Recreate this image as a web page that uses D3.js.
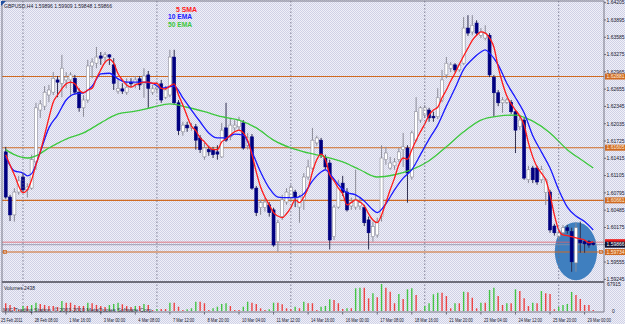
<!DOCTYPE html>
<html>
<head>
<meta charset="utf-8">
<script src="https://cdn.jsdelivr.net/npm/d3@7/dist/d3.min.js"></script>
<style>
  body { margin: 0; background: #e2e2ee; }
  svg { display: block; }
  text { font-family: "Liberation Sans", Arial, sans-serif; }
</style>
</head>
<body>
<div id="chart"></div>
<script>
// GBPUSD H4
// bar 0 = Mon 28 Feb 2011 00:00, one bar per 4h, plus a short Sunday 20:00 bar each week
const firstBar = -4

const open = [1.6153,1.6072,1.6040,1.6081,1.6108,1.6085,1.6088,1.6135,1.6228,1.6235,
  1.6255,1.6260,1.6282,1.6276,1.6282,1.6282,1.6285,1.6260,1.6232,1.6246,
  1.6307,1.6312,1.6325,1.6323,1.6327,1.6309,1.6262,1.6266,1.6260,1.6278,
  1.6275,1.6284,1.6275,1.6291,1.6260,1.6266,1.6275,1.6251,1.6255,1.6323,
  1.6241,1.6189,1.6201,1.6196,1.6198,1.6178,1.6144,1.6157,1.6157,1.6153,
  1.6144,1.6196,1.6180,1.6196,1.6198,1.6205,1.6165,1.6180,1.6088,1.6053,
  1.6053,1.6058,1.6049,1.5992,1.6037,1.6063,1.6072,1.6081,1.6054,1.6067,
  1.6108,1.6124,1.6169,1.6174,1.6142,1.6133,1.6001,1.6054,1.6097,1.6081,
  1.6056,1.6054,1.6056,1.6053,1.6031,1.6001,1.6004,1.6037,1.6139,1.6124,
  1.6128,1.6139,1.6157,1.6160,1.6108,1.6174,1.6210,1.6219,1.6228,1.6217,
  1.6216,1.6246,1.6291,1.6303,1.6309,1.6300,1.6312,1.6375,1.6368,1.6384,
  1.6362,1.6357,1.6362,1.6287,1.6259,1.6241,1.6242,1.6242,1.6225,1.6198,
  1.6210,1.6103,1.6124,1.6124,1.6103,1.6080,1.6081,1.6020,1.6001,1.6008,
  1.6017,1.6010,1.5954,1.5995,1.5992,1.5992,1.59896]
const high = [1.6162,1.6076,1.6088,1.6110,1.6115,1.6097,1.6148,1.6241,1.6246,1.6271,
  1.6273,1.6296,1.6289,1.6327,1.6296,1.6296,1.6291,1.6267,1.6255,1.6318,
  1.6321,1.6341,1.6332,1.6332,1.6328,1.6321,1.6285,1.6276,1.6285,1.6285,
  1.6289,1.6289,1.6303,1.6298,1.6273,1.6275,1.6282,1.6271,1.6336,1.6336,
  1.6246,1.6207,1.6207,1.6205,1.6203,1.6183,1.6169,1.6164,1.6162,1.6165,
  1.6205,1.6241,1.6214,1.6210,1.6216,1.6210,1.6187,1.6185,1.6092,1.6067,
  1.6071,1.6063,1.6053,1.6031,1.6076,1.6088,1.6094,1.6085,1.6076,1.6115,
  1.6139,1.6196,1.6182,1.6178,1.6148,1.6139,1.6058,1.6103,1.6110,1.6088,
  1.6071,1.6121,1.6072,1.6058,1.6037,1.6028,1.6035,1.6165,1.6162,1.6144,
  1.6142,1.6160,1.6187,1.6165,1.6191,1.6251,1.6235,1.6237,1.6232,1.6225,
  1.6267,1.6300,1.6323,1.6314,1.6312,1.6312,1.6395,1.6398,1.6398,1.6389,
  1.6375,1.6380,1.6366,1.6291,1.6264,1.6251,1.6250,1.6246,1.6228,1.6219,
  1.6214,1.6128,1.6128,1.6128,1.6128,1.6106,1.6085,1.6024,1.6013,1.6022,
  1.6022,1.6017,1.6026,1.6028,1.5995,1.5995,1.59909]
const low = [1.6069,1.6029,1.6028,1.6076,1.6080,1.6071,1.6085,1.6121,1.6214,1.6228,
  1.6242,1.6255,1.6251,1.6251,1.6267,1.6251,1.6255,1.6225,1.6216,1.6241,
  1.6285,1.6303,1.6309,1.6312,1.6309,1.6264,1.6257,1.6257,1.6255,1.6269,
  1.6267,1.6264,1.6250,1.6232,1.6255,1.6260,1.6241,1.6248,1.6251,1.6237,
  1.6183,1.6182,1.6189,1.6191,1.6157,1.6151,1.6139,1.6146,1.6142,1.6139,
  1.6142,1.6171,1.6174,1.6189,1.6192,1.6157,1.6157,1.6085,1.6038,1.6040,
  1.6046,1.6037,1.5983,1.5974,1.6031,1.6058,1.6067,1.6054,1.6026,1.6049,
  1.6103,1.6121,1.6164,1.6142,1.6121,1.5978,1.5995,1.6051,1.6074,1.6046,
  1.6049,1.6049,1.6049,1.6020,1.5978,1.5992,1.5999,1.6028,1.6130,1.6121,
  1.6121,1.6135,1.6126,1.6062,1.6103,1.6171,1.6205,1.6214,1.6207,1.6207,
  1.6212,1.6242,1.6285,1.6296,1.6296,1.6296,1.6309,1.6361,1.6362,1.6361,
  1.6357,1.6353,1.6287,1.6216,1.6235,1.6223,1.6239,1.6221,1.6151,1.6192,
  1.6103,1.6097,1.6097,1.6094,1.6097,1.6058,1.6008,1.6003,1.5995,1.6003,
  1.6006,1.5938,1.5938,1.5972,1.5972,1.5981,1.59848]
const close = [1.6072,1.6040,1.6081,1.6101,1.6085,1.6090,1.6139,1.6232,1.6239,1.6260,
  1.6264,1.6285,1.6278,1.6303,1.6287,1.6291,1.6260,1.6232,1.6246,1.6307,
  1.6314,1.6323,1.6321,1.6327,1.6323,1.6276,1.6267,1.6262,1.6269,1.6275,
  1.6282,1.6273,1.6289,1.6267,1.6266,1.6269,1.6246,1.6264,1.6323,1.6241,
  1.6191,1.6201,1.6196,1.6199,1.6174,1.6157,1.6160,1.6153,1.6148,1.6149,
  1.6192,1.6174,1.6201,1.6201,1.6210,1.6160,1.6178,1.6088,1.6044,1.6062,
  1.6063,1.6044,1.5986,1.6026,1.6067,1.6081,1.6090,1.6071,1.6072,1.6108,
  1.6126,1.6174,1.6178,1.6148,1.6126,1.5995,1.6054,1.6097,1.6080,1.6049,
  1.6062,1.6067,1.6062,1.6026,1.6008,1.6019,1.6028,1.6142,1.6151,1.6133,
  1.6135,1.6153,1.6162,1.6115,1.6187,1.6225,1.6232,1.6232,1.6214,1.6214,
  1.6250,1.6282,1.6312,1.6309,1.6300,1.6309,1.6375,1.6366,1.6380,1.6366,
  1.6368,1.6366,1.6291,1.6259,1.6241,1.6246,1.6246,1.6225,1.6192,1.6210,
  1.6106,1.6121,1.6103,1.6099,1.6121,1.6103,1.6013,1.6008,1.6008,1.6017,
  1.6012,1.5956,1.6017,1.5990,1.5988,1.5986,1.59866]
const volume = [19400,15100,10100,2500,12600,12600,15100,20900,17600,15100,
  12600,12600,10100,25200,20900,20900,15100,12600,12600,20900,
  19400,15100,12600,10100,15100,17600,20900,16900,12600,10100,
  12600,12600,17600,15100,2500,5000,5000,5000,20900,20900,
  10800,2500,4300,6800,23400,23400,19400,2500,6800,10800,
  17600,19400,12600,2500,2500,10800,23400,20900,17600,6800,
  2500,4300,20900,20900,16900,6800,4300,10800,6800,23400,
  19400,19400,2500,10800,12600,29400,27700,19400,5000,6800,
  6800,57100,58600,58600,31900,44500,34500,67915,58600,48500,
  19400,42800,30200,54600,57100,40200,1300,12600,19400,42000,
  46000,46000,37700,6800,19400,19400,48500,47000,33400,6800,
  20900,20900,52800,58600,37700,15100,19400,19400,54600,50300,
  31900,12600,20900,19400,50300,44500,42800,4300,10100,15100,
  17600,47800,40200,30200,15100,15100,2438]

// moving averages (bar index -> price)
const smaBars = [-4,-2,0,1,2,3,4,5,6,7,8,9,10,11,12,13,14,15,16,17,18,19,20,21,22,23,24,25,26,27,28,29,30,
  31,32,33,34,35,36,37,38,39,40,41,42,43,44,45,46,47,48,49,50,51,52,53,54,55,56,57,58,59,60,
  61,62,63,64,65,66,67,68,69,70,71,72,73,74,75,76,77,78,79,80,81,82,83,84,85,86,87,88,89,90,
  91,92,93,94,95,96,97,98,99,100,101,102,103,104,105,106,107,108,109,110,111,112,113,114,115,
  116,117,118,119,120,121,122,123,124,125,126,127,128,129,130,131,132]
const smaVals = [1.6148,1.6112,1.6080,1.6085,1.6103,1.6130,1.6153,1.6183,1.6214,1.6242,1.6255,1.6266,
  1.6275,1.6278,1.6275,1.6264,1.6259,1.6264,1.6267,1.6285,1.6300,1.6314,1.6319,1.6312,1.6293,
  1.6282,1.6273,1.6269,1.6273,1.6276,1.6278,1.6278,1.6276,1.6276,1.6267,1.6266,1.6271,1.6275,
  1.6255,1.6237,1.6217,1.6199,1.6191,1.6178,1.6171,1.6162,1.6157,1.6157,1.6171,1.6176,1.6183,
  1.6189,1.6192,1.6187,1.6174,1.6148,1.6117,1.6090,1.6072,1.6058,1.6044,1.6038,1.6035,1.6042,
  1.6053,1.6067,1.6062,1.6072,1.6088,1.6117,1.6139,1.6149,1.6139,1.6112,1.6101,1.6088,1.6078,
  1.6058,1.6062,1.6067,1.6063,1.6056,1.6042,1.6031,1.6026,1.6040,1.6062,1.6085,1.6106,1.6130,
  1.6142,1.6140,1.6157,1.6174,1.6189,1.6203,1.6219,1.6228,1.6233,1.6250,1.6264,1.6280,1.6294,
  1.6310,1.6325,1.6339,1.6353,1.6362,1.6368,1.6366,1.6357,1.6341,1.6305,1.6276,1.6253,1.6239,
  1.6228,1.6217,1.6201,1.6169,1.6144,1.6126,1.6115,1.6103,1.6076,1.6040,1.6013,1.6004,1.6003,
  1.6001,1.5999,1.5997,1.5995,1.5990,1.5992]
const ema10Bars = [-4,-2,0,1,2,4,6,8,10,12,14,16,18,20,22,24,27,30,32,35,37,39,41,43,45,47,49,51,53,
  55,57,59,61,63,65,67,69,70,71,73,75,77,79,81,82,84,86,88,90,92,94,96,98,100,102,104,106,107,108,
  110,112,114,116,118,120,122,124,126,128,130,132]
const ema10Vals = [1.6144,1.6119,1.6115,1.6110,1.6114,1.6153,1.6196,1.6219,1.6246,1.6257,1.6259,
  1.6271,1.6293,1.6294,1.6284,1.6278,1.6278,1.6276,1.6267,1.6271,1.6250,1.6228,1.6207,1.6187,
  1.6178,1.6178,1.6185,1.6183,1.6153,1.6117,1.6088,1.6072,1.6071,1.6071,1.6078,1.6101,1.6117,
  1.6121,1.6114,1.6094,1.6080,1.6076,1.6065,1.6049,1.6044,1.6060,1.6085,1.6106,1.6121,1.6148,
  1.6176,1.6201,1.6235,1.6267,1.6301,1.6319,1.6332,1.6336,1.6330,1.6309,1.6276,1.6250,1.6223,
  1.6182,1.6153,1.6124,1.6085,1.6054,1.6038,1.6028,1.6013]
const ema50Bars = [-4,-2,1,3,6,10,14,18,22,26,30,34,38,42,46,50,54,58,62,66,70,74,78,82,86,90,94,
  98,102,106,110,114,118,122,126,130,132]
const ema50Vals = [1.6157,1.6148,1.6142,1.6146,1.6160,1.6176,1.6187,1.6205,1.6221,1.6226,1.6233,
  1.6239,1.6233,1.6225,1.6216,1.6210,1.6196,1.6174,1.6160,1.6151,1.6144,1.6135,1.6121,1.6108,
  1.6112,1.6121,1.6137,1.6162,1.6189,1.6210,1.6217,1.6219,1.6208,1.6187,1.6157,1.6135,1.6124]

// horizontal levels drawn on the chart, bid / ask
const levels = [1.62881, 1.61605, 1.60661, 1.59734]
const bid = 1.59866
const ask = 1.59911
// ellipse object round the last bars
const ellipseBars = [123.1, 132.9]
const ellipsePrices = [1.5923, 1.6027]

// axes
const priceTicks = [1.64205,1.63895,1.63585,1.63275,1.62965,1.62655,1.62345,1.62035,1.61725,
  1.61415,1.61105,1.60795,1.60485,1.60175,1.59865,1.59555,1.59245]
const timeLabels = ["25 Feb 2011","28 Feb 08:00","1 Mar 16:00","3 Mar 00:00","4 Mar 08:00",
  "7 Mar 12:00","8 Mar 20:00","10 Mar 04:00","11 Mar 12:00","14 Mar 16:00","16 Mar 00:00",
  "17 Mar 08:00","18 Mar 16:00","21 Mar 20:00","23 Mar 04:00","24 Mar 12:00","25 Mar 20:00",
  "29 Mar 00:00"]
const timeLabelBars = [-4,2,10,18,26,34,42,50,58,66,74,82,90,98,106,114,122,130]
const weekStarts = [0, 31, 62, 93, 124]
const volumeMax = 67915

const width = 625
const height = 324
const plot = { left: 2, right: 604, top: 1, priceBottom: 281, volTop: 284, volBottom: 311, axisY: 312 }

const svg = d3.select("#chart").append("svg")
  .attr("width", width)
  .attr("height", height)

// dithered MT4 background
const defs = svg.append("defs")
const pat = defs.append("pattern").attr("id", "dither")
  .attr("width", 2).attr("height", 2).attr("patternUnits", "userSpaceOnUse")
pat.append("rect").attr("width", 2).attr("height", 2).attr("fill", "#f0f0f8")
pat.append("rect").attr("width", 1).attr("height", 1).attr("fill", "#cfd1e6")
pat.append("rect").attr("x", 1).attr("y", 1).attr("width", 1).attr("height", 1).attr("fill", "#cfd1e6")
svg.append("rect").attr("width", width).attr("height", height).attr("fill", "url(#dither)")

defs.append("clipPath").attr("id", "priceClip").append("rect")
  .attr("x", plot.left).attr("y", plot.top)
  .attr("width", plot.right - plot.left).attr("height", plot.priceBottom - plot.top)

// scales
const x = d3.scaleLinear().domain([-4.86, 134.49]).range([plot.left, plot.right])
const y = d3.scaleLinear().domain([1.59215, 1.64253]).range([plot.priceBottom, 0])
const vy = d3.scaleLinear().domain([0, volumeMax]).range([plot.volBottom, plot.volTop])
const fmt = d3.format(".5f")

const candles = open.map((o, i) => ({
  bar: firstBar + i, o, h: high[i], l: low[i], c: close[i], v: volume[i]
}))

const price = svg.append("g").attr("clip-path", "url(#priceClip)")

// weekly separators, through both panels
svg.append("g").selectAll("line").data(weekStarts).join("line")
  .attr("x1", (d) => x(d)).attr("x2", (d) => x(d))
  .attr("y1", plot.top).attr("y2", plot.axisY)
  .attr("stroke", "#6a6a80").attr("stroke-width", 0.8)
  .attr("stroke-dasharray", "1.5,2")

// ellipse object (drawn as background)
price.append("ellipse")
  .attr("cx", (x(ellipseBars[0]) + x(ellipseBars[1])) / 2)
  .attr("cy", (y(ellipsePrices[0]) + y(ellipsePrices[1])) / 2)
  .attr("rx", (x(ellipseBars[1]) - x(ellipseBars[0])) / 2)
  .attr("ry", (y(ellipsePrices[0]) - y(ellipsePrices[1])) / 2)
  .attr("fill", "#3f7fbf")

// horizontal levels
price.selectAll(".level").data(levels).join("line")
  .attr("class", "level")
  .attr("x1", plot.left).attr("x2", plot.right)
  .attr("y1", (d) => y(d)).attr("y2", (d) => y(d))
  .attr("stroke", "#cf6a22").attr("stroke-width", 1.1)

price.append("line")
  .attr("x1", plot.left).attr("x2", plot.right)
  .attr("y1", y(ask)).attr("y2", y(ask))
  .attr("stroke", "#e0606a").attr("stroke-width", 0.8)
price.append("line")
  .attr("x1", plot.left).attr("x2", plot.right)
  .attr("y1", y(bid)).attr("y2", y(bid))
  .attr("stroke", "#8a8aa0").attr("stroke-width", 0.8)

// small price-label markers at the ends of the lowest level
price.selectAll(".mark").data([plot.left + 1.5, plot.right - 4.5]).join("rect")
  .attr("class", "mark")
  .attr("x", (d) => d).attr("y", y(levels[3]) - 1.5)
  .attr("width", 3).attr("height", 3)
  .attr("fill", "none").attr("stroke", "#cf6a22").attr("stroke-width", 0.8)

// candles
const bodyW = 3
price.selectAll(".wick").data(candles).join("line")
  .attr("class", "wick")
  .attr("x1", (d) => x(d.bar)).attr("x2", (d) => x(d.bar))
  .attr("y1", (d) => y(d.h)).attr("y2", (d) => y(d.l))
  .attr("stroke", (d) => (d.c >= d.o ? "#8c8c98" : "#303050"))
  .attr("stroke-width", 1)

price.selectAll(".body").data(candles).join("rect")
  .attr("class", "body")
  .attr("x", (d) => x(d.bar) - bodyW / 2)
  .attr("y", (d) => y(Math.max(d.o, d.c)))
  .attr("width", bodyW)
  .attr("height", (d) => Math.max(0.8, Math.abs(y(d.o) - y(d.c))))
  .attr("fill", (d) => (d.c >= d.o ? "#ffffff" : "#000080"))
  .attr("stroke", (d) => (d.c >= d.o ? "#8c8c98" : "#000080"))
  .attr("stroke-width", 0.6)

// moving averages
const maLine = d3.line()
  .x((d) => x(d[0]))
  .y((d) => y(d[1]))
  .curve(d3.curveMonotoneX)

const series = [
  { bars: ema50Bars, vals: ema50Vals, color: "#3cc83c" },
  { bars: ema10Bars, vals: ema10Vals, color: "#1a1aff" },
  { bars: smaBars, vals: smaVals, color: "#ff1a1a" }
]
series.forEach((s) => {
  price.append("path")
    .datum(s.bars.map((b, i) => [b, s.vals[i]]))
    .attr("d", maLine)
    .attr("fill", "none")
    .attr("stroke", s.color)
    .attr("stroke-width", 1.3)
})

// volumes: green when up on the previous bar, red otherwise
svg.append("g").selectAll("line").data(candles).join("line")
  .attr("x1", (d) => x(d.bar)).attr("x2", (d) => x(d.bar))
  .attr("y1", vy(0)).attr("y2", (d) => vy(d.v))
  .attr("stroke", (d, i) => (i > 0 && d.v > candles[i - 1].v ? "#43c443" : "#ec4343"))
  .attr("stroke-width", 1.4)

// frames
const frame = svg.append("g").attr("fill", "none")
frame.append("path")
  .attr("d", `M${plot.left},${plot.axisY}V${plot.top}H${plot.right}V${plot.axisY}H${plot.left}`)
  .attr("stroke", "#7a7a88").attr("stroke-width", 1)
frame.append("line")
  .attr("x1", plot.left).attr("x2", plot.right)
  .attr("y1", plot.priceBottom + 1).attr("y2", plot.priceBottom + 1)
  .attr("stroke", "#6e6e7a").attr("stroke-width", 2)

// right price axis (the tick under the bid box is hidden, as in MT4)
const shownTicks = priceTicks.filter((t) => Math.abs(y(t) - y(bid)) > 6)
const axisText = svg.append("g").attr("font-size", 5).attr("fill", "#202030")
axisText.selectAll(".tick").data(priceTicks).join("line")
  .attr("x1", plot.right).attr("x2", plot.right + 2)
  .attr("y1", (d) => y(d)).attr("y2", (d) => y(d))
  .attr("stroke", "#505060").attr("stroke-width", 0.8)
axisText.selectAll(".plabel").data(shownTicks).join("text")
  .attr("x", plot.right + 2.5).attr("y", (d) => y(d) + 1.8)
  .text((d) => fmt(d))

// coloured price boxes on the axis; the ask box sits under the bid box
const boxes = [
  ...levels.map((p) => ({ p, fill: "#cf6a22", color: "#ffeede", label: true })),
  { p: ask, fill: "#ee1c1c", color: "#ffffff", label: false },
  { p: bid, fill: "#101030", color: "#ffffff", label: true }
]
const box = svg.append("g").selectAll("g").data(boxes).join("g")
box.append("rect")
  .attr("x", plot.right + 1).attr("y", (d) => y(d.p) - 3)
  .attr("width", width - plot.right - 1).attr("height", 6)
  .attr("fill", (d) => d.fill)
box.filter((d) => d.label).append("text")
  .attr("x", plot.right + 2.5).attr("y", (d) => y(d.p) + 1.8)
  .attr("font-size", 5).attr("fill", (d) => d.color)
  .text((d) => fmt(d.p))

// volume axis
axisText.selectAll(".vlabel").data([volumeMax, 0]).join("text")
  .attr("x", (d) => (d ? plot.right + 3 : plot.right + 8))
  .attr("y", (d) => vy(d) + 2)
  .text((d) => d)

// time axis
axisText.selectAll(".ttick").data(timeLabelBars).join("line")
  .attr("x1", (d) => x(d)).attr("x2", (d) => x(d))
  .attr("y1", plot.axisY).attr("y2", plot.axisY + 2.5)
  .attr("stroke", "#505060").attr("stroke-width", 0.8)
axisText.selectAll(".tlabel").data(timeLabels).join("text")
  .attr("x", (d, i) => (i === 0 ? plot.left - 1 : x(timeLabelBars[i]) + 3))
  .attr("y", 321.5)
  .attr("font-size", 6)
  .attr("textLength", (d) => d.length * 1.95).attr("lengthAdjust", "spacingAndGlyphs")
  .text((d) => d)

// header, legend and panel captions
svg.append("path").attr("d", "M1,1L6,1L1,6Z").attr("fill", "#2050a0")
svg.append("text").attr("x", 4).attr("y", 7.6)
  .attr("font-size", 6).attr("fill", "#202030")
  .attr("textLength", 108).attr("lengthAdjust", "spacingAndGlyphs")
  .text("GBPUSD,H4  1.59896 1.59909 1.59848 1.59866")

const legend = [
  { label: "5 SMA", color: "#ff1a1a", x: 176, y: 11.8, w: 21 },
  { label: "10 EMA", color: "#1a1aff", x: 168, y: 18.8, w: 24 },
  { label: "50 EMA", color: "#3cc83c", x: 168, y: 27.3, w: 24 }
]
svg.append("g").selectAll("text").data(legend).join("text")
  .attr("x", (d) => d.x).attr("y", (d) => d.y)
  .attr("font-size", 7).attr("font-weight", "bold")
  .attr("fill", (d) => d.color)
  .attr("textLength", (d) => d.w).attr("lengthAdjust", "spacingAndGlyphs")
  .text((d) => d.label)

svg.append("text").attr("x", 4).attr("y", 289.5)
  .attr("font-size", 6).attr("fill", "#202030")
  .attr("textLength", 31).attr("lengthAdjust", "spacingAndGlyphs")
  .text("Volumes 2438")
svg.append("text").attr("x", 3).attr("y", 312)
  .attr("font-size", 6).attr("fill", "#303040")
  .attr("textLength", 150).attr("lengthAdjust", "spacingAndGlyphs")
  .text("MIG Trading Station, © 2001-2010 MetaQuotes Software Corp.")
</script>
</body>
</html>
